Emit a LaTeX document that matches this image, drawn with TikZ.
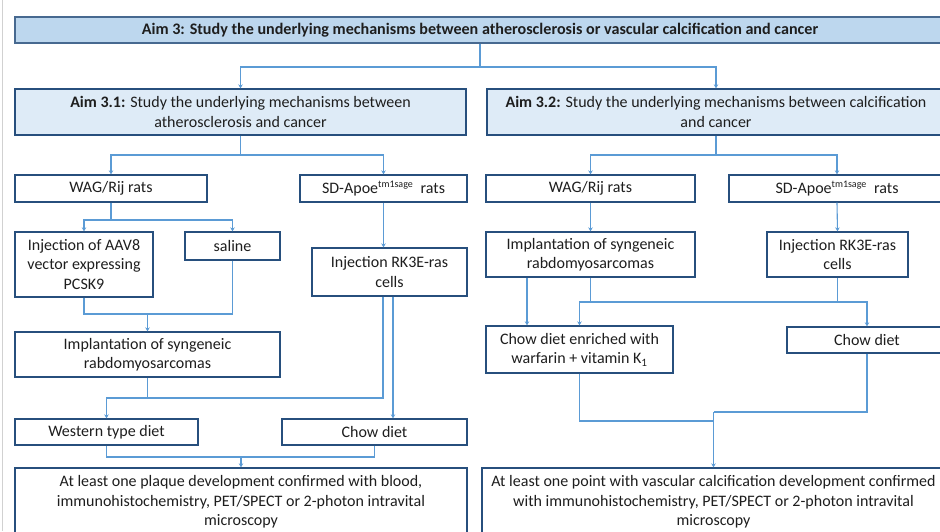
\documentclass[tikz,border=0pt]{standalone}
\usepackage{fontspec}
\setmainfont{Carlito}
\usetikzlibrary{arrows.meta}
\definecolor{linkblue}{HTML}{5B9BD5}
\definecolor{edgeblue}{HTML}{274F7D}
\definecolor{headfill}{HTML}{BDD7EE}
\definecolor{subfill}{HTML}{DEEBF7}
\definecolor{inkgray}{HTML}{1E1E1E}
\newcommand{\strainsup}{\textsuperscript{\fontsize{10}{10}\selectfont tm1sage}}
\begin{document}
\begin{tikzpicture}[x=1pt,y=-1pt,
  font=\fontsize{16}{19.5}\selectfont,
  box/.style={draw=edgeblue, line width=1.3pt, fill=white, align=center,
              inner sep=0pt, text=inkgray},
  link/.style={draw=linkblue, line width=1.1pt},
  arr/.style={link, -{Stealth[length=4pt,width=4.5pt]}}]

% canvas
\fill[white] (0,0) rectangle (940,531);
\useasboundingbox (0,0) rectangle (940,531);
\draw[black!18, line width=0.8pt] (2,0) -- (2,531);

% headline and the two sub-aims
\node[box, fill=headfill, draw=edgeblue!85, minimum width=930pt, minimum height=26pt,
      font=\bfseries\fontsize{16.1}{18}\selectfont] (top) at (480,30)
  {Aim 3: Study the underlying mechanisms between atherosclerosis or vascular calcification and cancer};
\node[box, fill=subfill, minimum width=451pt, minimum height=46pt] (a31) at (240.5,112)
  {\textbf{Aim 3.1:} Study the underlying mechanisms between\\atherosclerosis and cancer};
\node[box, fill=subfill, minimum width=458pt, minimum height=46pt] (a32) at (716,112)
  {\textbf{Aim 3.2:} Study the underlying mechanisms between calcification\\and cancer};

% atherosclerosis branch
\node[box, minimum width=192pt, minimum height=27pt] (wagL) at (111,188.5) {WAG/Rij rats};
\node[box, minimum width=167pt, minimum height=27pt] (sdL) at (383.5,188.5)
  {SD-Apoe\strainsup\ \ rats};
\node[box, minimum width=138pt, minimum height=65pt] (aav) at (84,264.5)
  {Injection of AAV8\\vector expressing\\PCSK9};
\node[box, minimum width=95pt, minimum height=28pt] (sal) at (232.5,246) {saline};
\node[box, minimum width=155pt, minimum height=48pt] (injL) at (389.5,272)
  {Injection RK3E-ras\\cells};
\node[box, minimum width=265pt, minimum height=45pt] (impL) at (147.5,354.5)
  {Implantation of syngeneic\\rabdomyosarcomas};
\node[box, minimum width=183pt, minimum height=26pt] (west) at (106.5,432) {Western type diet};
\node[box, minimum width=185pt, minimum height=26pt] (chowL) at (374.5,432) {Chow diet};
\node[box, minimum width=452pt, minimum height=68pt] (finL) at (241,502)
  {At least one plaque development confirmed with blood,\\immunohistochemistry, PET/SPECT or 2-photon intravital\\microscopy};

% calcification branch
\node[box, minimum width=209pt, minimum height=27pt] (wagR) at (590.5,188.5) {WAG/Rij rats};
\node[box, minimum width=216pt, minimum height=27pt] (sdR) at (837,188.5)
  {SD-Apoe\strainsup\ \ rats};
\node[box, minimum width=209pt, minimum height=45pt] (impR) at (590.5,254.5)
  {Implantation of syngeneic\\rabdomyosarcomas};
\node[box, minimum width=141pt, minimum height=45pt] (injR) at (837.5,254.5)
  {Injection RK3E-ras\\cells};
\node[box, minimum width=187pt, minimum height=47pt] (chowE) at (579.5,349.5)
  {Chow diet enriched with\\warfarin + vitamin K\textsubscript{1}};
\node[box, minimum width=160pt, minimum height=26pt] (chowR) at (867,340) {Chow diet};
\node[box, minimum width=463pt, minimum height=68pt] (finR) at (713.5,502)
  {At least one point with vascular calcification development confirmed\\with immunohistochemistry, PET/SPECT or 2-photon intravital\\microscopy};

% junction points
\coordinate (j0) at (480,67);
\coordinate (j1) at (240.5,155);
\coordinate (j2) at (716,155);
\coordinate (j3) at (111,220);
\coordinate (m1) at (147.5,314);
\coordinate (m2) at (147.5,398);
\coordinate (m3) at (241,457);
\coordinate (m4) at (590.5,302);
\coordinate (m5) at (713.5,412);
\coordinate (m6) at (713.5,421);

% connectors
\draw[link] (top.south) -- (j0);
\draw[arr] (j0) -| (a31.north);
\draw[arr] (j0) -| (a32.north);

\draw[link] (a31.south) -- (j1);
\draw[arr] (j1) -| (wagL.north);
\draw[arr] (j1) -| (sdL.north);
\draw[link] (a32.south) -- (j2);
\draw[arr] (j2) -| (wagR.north);
\draw[arr] (j2) -| (sdR.north);

\draw[link] (wagL.south) -- (j3);
\draw[arr] (j3) -| (aav.north);
\draw[arr] (j3) -| (sal.north);
\draw[arr] (sdL.south) -- (sdL.south |- injL.north);

\draw[link] (aav.south) |- (m1);
\draw[link] (sal.south) |- (m1);
\draw[arr] (m1) -- (impL.north);

\draw[link] (impL.south) -- (m2);
\draw[arr] (m2) -| (west.north);
\draw[link] ([xshift=-6.5pt]injL.south) |- (m2);
\draw[arr] ([xshift=3.5pt]injL.south) -- ([xshift=3.5pt]injL.south |- chowL.north);

\draw[link] (west.south) |- (m3);
\draw[link] (chowL.south) |- (m3);
\draw[arr] (m3) -- (finL.north);

\draw[arr] (wagR.south) -- (impR.north);
\draw[arr] (sdR.south) -- (injR.north);
\draw[arr] ([xshift=-63.5pt]impR.south) -- ([xshift=-63.5pt]impR.south |- chowE.north);
\draw[link] (impR.south) -- (m4);
\draw[link] (injR.south) -- (injR.south |- m4);
\draw[arr] (m4) -| (chowE.north);
\draw[arr] (m4) -| (chowR.north);

\draw[link] (chowR.south) |- (m5);
\draw[link] (chowE.south) |- (m6);
\draw[arr] (m5) -- (finR.north);
\end{tikzpicture}
\end{document}
